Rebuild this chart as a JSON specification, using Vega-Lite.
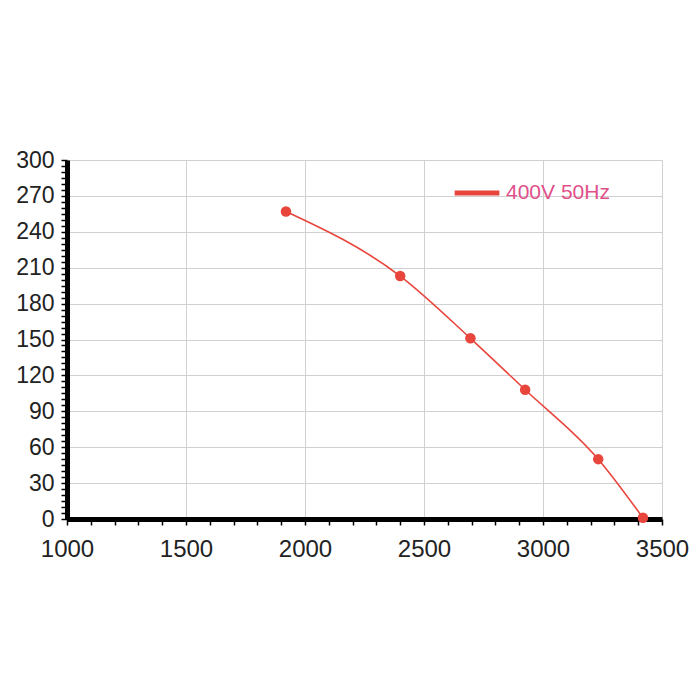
{
  "$schema": "https://vega.github.io/schema/vega-lite/v6.json",
  "autosize": "none",
  "width": 595,
  "height": 359,
  "padding": {"left": 67, "top": 160, "right": 38, "bottom": 181},
  "background": "white",
  "config": {
    "view": {"stroke": null},
    "font": "Liberation Sans",
    "axis": {
      "domainColor": "black",
      "domainWidth": 5,
      "tickColor": "black",
      "tickWidth": 1.5,
      "tickSize": 6,
      "labelFont": "Liberation Sans",
      "labelFontSize": 23,
      "labelColor": "#222222",
      "gridColor": "#d0d0d0",
      "gridWidth": 1
    }
  },
  "data": {
    "values": [
      {"flow": 1920, "pressure": 257, "series": "400V 50Hz"},
      {"flow": 2400, "pressure": 203, "series": "400V 50Hz"},
      {"flow": 2695, "pressure": 151, "series": "400V 50Hz"},
      {"flow": 2925, "pressure": 108, "series": "400V 50Hz"},
      {"flow": 3232, "pressure": 50, "series": "400V 50Hz"},
      {"flow": 3420, "pressure": 1, "series": "400V 50Hz"}
    ]
  },
  "encoding": {
    "x": {
      "field": "flow",
      "type": "quantitative",
      "scale": {"domain": [1000, 3500], "nice": false, "zero": false},
      "axis": {
        "title": null,
        "values": [1000,1100,1200,1300,1400,1500,1600,1700,1800,1900,2000,2100,2200,2300,2400,2500,2600,2700,2800,2900,3000,3100,3200,3300,3400,3500],
        "labelExpr": "datum.value % 500 === 0 ? datum.label : ''",
        "gridOpacity": {"condition": {"test": "datum.value % 500 === 0 && datum.value > 1000", "value": 1}, "value": 0},
        "labelFontSize": 24,
        "labelPadding": 12,
        "labelFlush": false,
        "labelOverlap": false,
        "format": "d"
      }
    },
    "y": {
      "field": "pressure",
      "type": "quantitative",
      "scale": {"domain": [0, 300], "nice": false},
      "axis": {
        "title": null,
        "values": [0,5,10,15,20,25,30,35,40,45,50,55,60,65,70,75,80,85,90,95,100,105,110,115,120,125,130,135,140,145,150,155,160,165,170,175,180,185,190,195,200,205,210,215,220,225,230,235,240,245,250,255,260,265,270,275,280,285,290,295,300],
        "labelExpr": "datum.value % 30 === 0 ? datum.label : ''",
        "gridOpacity": {"condition": {"test": "datum.value % 30 === 0 && datum.value > 0", "value": 1}, "value": 0},
        "labelPadding": 7,
        "labelFlush": false,
        "labelOverlap": false,
        "format": "d"
      }
    }
  },
  "layer": [
    {
      "mark": {"type": "line", "interpolate": "monotone", "strokeWidth": 1.6, "color": "#e8453c"},
      "encoding": {
        "color": {
          "field": "series",
          "type": "nominal",
          "scale": {"range": ["#e8453c"]},
          "legend": {
            "title": null,
            "orient": "none",
            "legendX": 385,
            "legendY": 8,
            "symbolType": "stroke",
            "symbolStrokeWidth": 5,
            "symbolSize": 2000,
            "labelFontSize": 21,
            "labelColor": "#e0508a",
            "labelFont": "Liberation Sans"
          }
        }
      }
    },
    {
      "mark": {"type": "point", "filled": true, "size": 110, "opacity": 1, "color": "#e8453c"}
    }
  ]
}
